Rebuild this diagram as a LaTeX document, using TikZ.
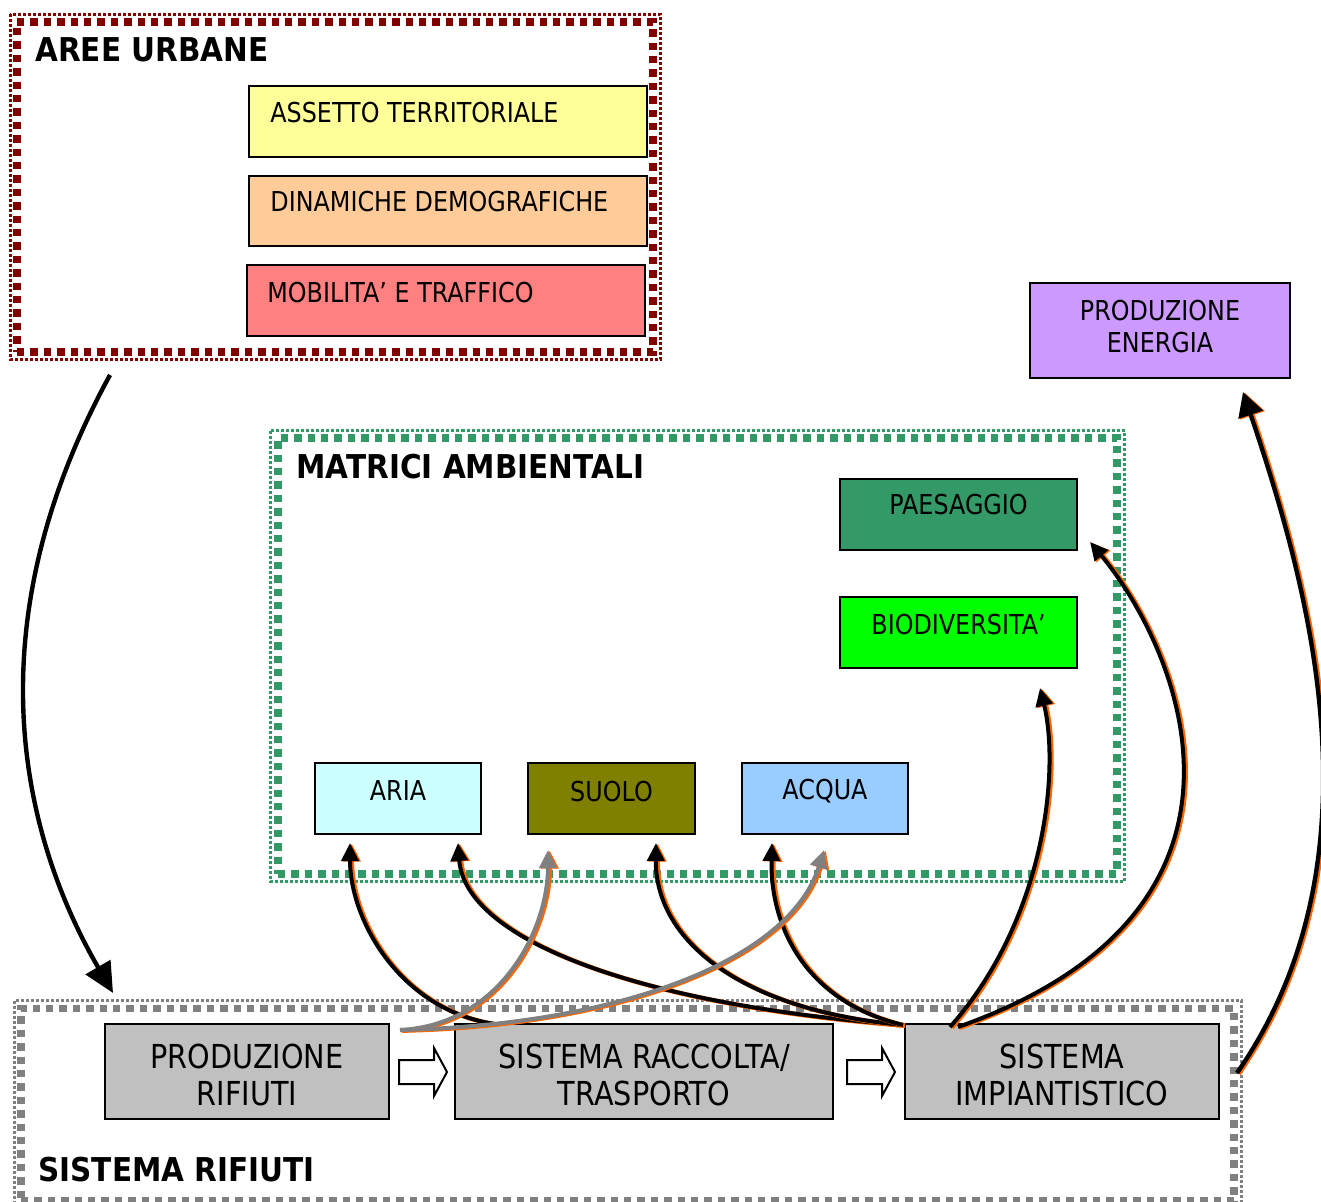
\documentclass[tikz,border=0pt]{standalone}
\usepackage{fontspec}
\setmainfont{DejaVu Sans}[FakeStretch=0.87,BoldFeatures={FakeStretch=0.9}]
\usetikzlibrary{arrows.meta,calc}
\definecolor{cdred}{HTML}{800000}
\definecolor{cgreenf}{HTML}{339966}
\definecolor{cgrayf}{HTML}{808080}
\definecolor{cyel}{HTML}{FFFF99}
\definecolor{cpea}{HTML}{FFCC99}
\definecolor{cros}{HTML}{FF8080}
\definecolor{cvio}{HTML}{CC99FF}
\definecolor{cpae}{HTML}{339966}
\definecolor{cbio}{HTML}{00FF00}
\definecolor{cari}{HTML}{CCFFFF}
\definecolor{csuo}{HTML}{808000}
\definecolor{cacq}{HTML}{99CCFF}
\definecolor{cbox}{HTML}{C0C0C0}
\definecolor{corg}{HTML}{FF6600}
\begin{document}
\begin{tikzpicture}[x=0.5pt,y=-0.5pt,
 thinfr/.style={line width=1.5pt,dash pattern=on 1.5pt off 1pt},
 thickfr/.style={line width=3.8pt,dash pattern=on 3.7pt off 3pt,inner sep=0,outer sep=0},
 box/.style={draw,line width=1pt,inner sep=0,outer sep=0},
 sm/.style={inner sep=0,font=\fontsize{13.7}{16}\selectfont},
 bg/.style={inner sep=0,align=center,font=\fontsize{16.5}{18.5}\selectfont},
 ttl/.style={inner sep=0,anchor=west,font=\fontsize{16.4}{19}\selectfont\bfseries},
 arr/.style={line width=2pt,-{Triangle[length=9pt,width=8.5pt]}},
 shad/.style={preaction={draw=corg,line width=2.3pt,transform canvas={shift={(0.9pt,-0.3pt)}}}},
 blockarr/.pic={\draw[line width=1pt,fill=white] (0,-12) -- (35,-12) -- (35,-24) -- (48,0) -- (35,24) -- (35,12) -- (0,12) -- cycle;}
]
\useasboundingbox (0,0) rectangle (1321,1202);

% frames
\node[thickfr,draw=cdred,minimum width=318pt,minimum height=165pt] (aree) at (335,187) {};
\draw[cdred,thinfr] ($(aree.north west)+(-7,-7.5)$) rectangle ($(aree.south east)+(7,8)$);
\node[thickfr,draw=cgreenf,minimum width=419.5pt,minimum height=218pt] (mat) at (697.5,656) {};
\draw[cgreenf,thinfr] ($(mat.north west)+(-7.5,-7)$) rectangle ($(mat.south east)+(7.5,7.5)$);
\node[thickfr,draw=cgrayf,minimum width=606.5pt,minimum height=96.25pt] (rif) at (627.5,1104.75) {};
\draw[cgrayf,thinfr] ($(rif.north west)+(-7,-8)$) rectangle ($(rif.south east)+(7.5,7)$);

% titles
\node[ttl] (tA) at (35,50) {AREE URBANE};
\node[ttl] (tM) at (296,467) {MATRICI AMBIENTALI};
\node[ttl] (tR) at (38,1170) {SISTEMA RIFIUTI};

% aree urbane boxes
\node[box,fill=cyel,minimum width=199pt,minimum height=35.5pt,
  label={[sm,anchor=west,xshift=10.5pt,yshift=4.25pt]west:ASSETTO TERRITORIALE}] (ass) at (448,121.5) {};
\node[box,fill=cpea,minimum width=199pt,minimum height=35pt,
  label={[sm,anchor=west,xshift=10.5pt,yshift=4.5pt]west:DINAMICHE DEMOGRAFICHE}] (din) at (448,211) {};
\node[box,fill=cros,minimum width=199pt,minimum height=35.5pt,
  label={[sm,anchor=west,xshift=10pt,yshift=3.75pt]west:MOBILITA’ E TRAFFICO}] (mob) at (446,300.5) {};

% energia
\node[box,fill=cvio,minimum width=130pt,minimum height=47.5pt,
  label={[sm,align=center,yshift=1.75pt]center:PRODUZIONE\\ENERGIA}] (ene) at (1160,330.5) {};

% matrici
\node[box,fill=cpae,minimum width=118.5pt,minimum height=35.5pt,
  label={[sm,yshift=4.75pt]center:PAESAGGIO}] (pae) at (958.5,514.5) {};
\node[box,fill=cbio,minimum width=118.5pt,minimum height=35.5pt,
  label={[sm,yshift=3.75pt]center:BIODIVERSITA’}] (bio) at (958.5,632.5) {};
\node[box,fill=cari,minimum width=83pt,minimum height=35.5pt,
  label={[sm,yshift=3.75pt]center:ARIA}] (ari) at (398,798.5) {};
\node[box,fill=csuo,minimum width=83.5pt,minimum height=35.5pt,
  label={[sm,yshift=3.25pt]center:SUOLO}] (suo) at (611.5,798.5) {};
\node[box,fill=cacq,minimum width=83pt,minimum height=35.5pt,
  label={[sm,yshift=3.75pt]center:ACQUA}] (acq) at (825,798.5) {};

% sistema rifiuti
\node[box,fill=cbox,minimum width=142pt,minimum height=47.5pt,
  label={[bg,yshift=-1.5pt]center:PRODUZIONE\\RIFIUTI}] (pr) at (247,1071.5) {};
\node[box,fill=cbox,minimum width=189pt,minimum height=47.5pt,
  label={[bg,yshift=-1.5pt]center:SISTEMA RACCOLTA/\\TRASPORTO}] (rac) at (644,1071.5) {};
\node[box,fill=cbox,minimum width=157pt,minimum height=47.5pt,
  label={[bg,yshift=-1.5pt]center:SISTEMA\\IMPIANTISTICO}] (imp) at (1062,1071.5) {};

\pic at ($(pr.east)+(10,0.5)$) {blockarr};
\pic at ($(imp.west)+(-58,0.5)$) {blockarr};

% attach points
\coordinate (a1s) at ($(aree.south west)+(93,23)$);
\coordinate (a1e) at ($(rif.north west)+(92,-15.5)$);
\coordinate (prO) at ($(pr.north east)+(11,6)$);
\coordinate (racO) at ($(rac.north west)+(40,0)$);
\coordinate (impO) at ($(imp.north west)+(-2,1)$);
\coordinate (impB) at ($(imp.north west)+(45,3)$);
\coordinate (impP) at ($(imp.north west)+(53,3)$);
\coordinate (impE) at ($(imp.east)+(18,1.5)$);
\coordinate (ariB1) at ($(ari.south)+(-48,9)$);
\coordinate (ariB2) at ($(ari.south)+(60,9)$);
\coordinate (suoG) at ($(suo.south)+(-63.5,16)$);
\coordinate (suoB) at ($(suo.south)+(44.5,9)$);
\coordinate (acqG) at ($(acq.south)+(-1,16)$);
\coordinate (acqB) at ($(acq.south)+(-53,9)$);
\coordinate (bioB) at ($(bio.south east)+(-37,20)$);
\coordinate (paeB) at ($(pae.south east)+(13,-8)$);
\coordinate (eneB) at ($(ene.south east)+(-47,14)$);

% connectors
\draw[line width=2.2pt,-{Triangle[length=15pt,width=14pt]}] (a1s) .. controls (-35,640) and (30,850) .. (a1e);
\draw[arr,shad] (racO) .. controls (400,1010) and (350,920) .. (ariB1);
\draw[arr,shad] (impO) .. controls (640,1005) and (465,940) .. (ariB2);
\draw[arr,shad] (impO) .. controls (740,1010) and (655,940) .. (suoB);
\draw[arr,shad] (impO) .. controls (800,1000) and (770,920) .. (acqB);
\draw[arr,shad] (impB) .. controls (1045,920) and (1060,770) .. (bioB);
\draw[arr,shad] (impP) .. controls (1290,910) and (1180,650) .. (paeB);
\draw[arr,shad,line width=2.2pt,-{Triangle[length=12pt,width=12.5pt]}] (impE) .. controls (1385,860) and (1310,590) .. (eneB);
\draw[arr,shad,cgrayf] (prO) .. controls (500,1025) and (548,930) .. (suoG);
\draw[arr,shad,cgrayf] (prO) .. controls (620,1025) and (790,960) .. (acqG);
\end{tikzpicture}
\end{document}
